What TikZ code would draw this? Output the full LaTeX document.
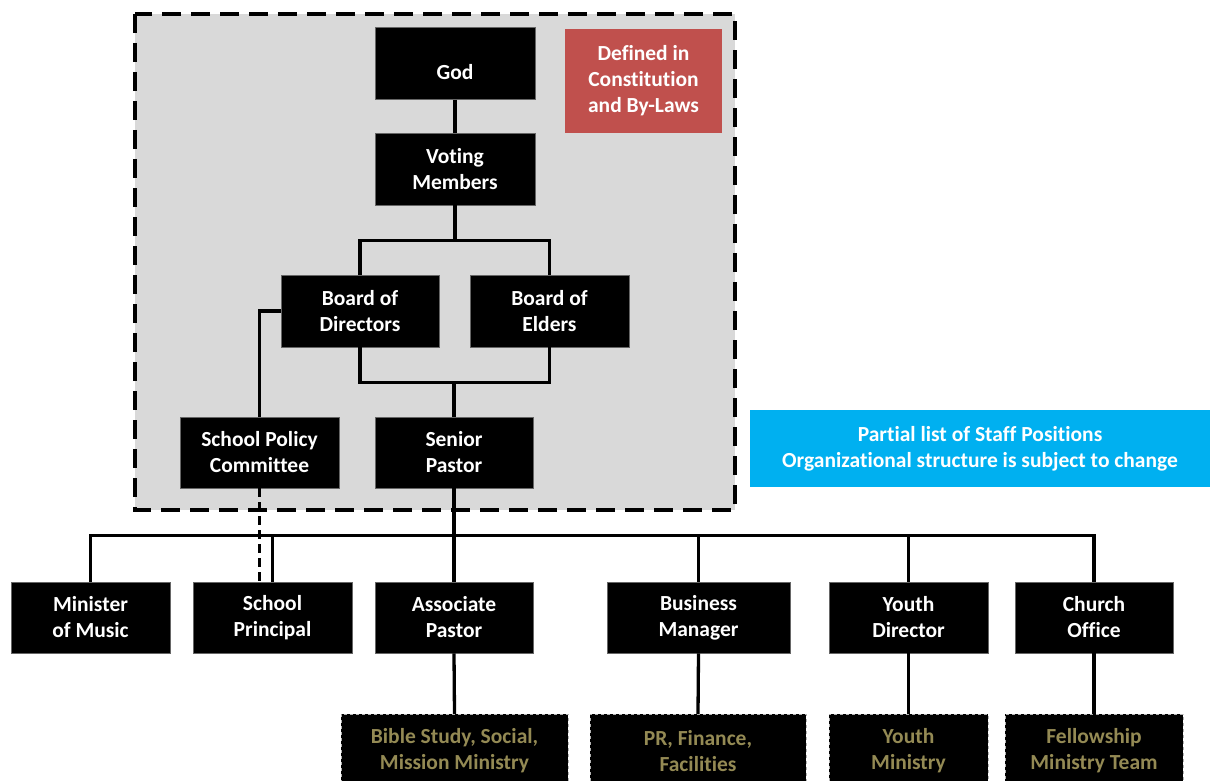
\documentclass[tikz,border=0pt]{standalone}
\usepackage{fontspec}
\setmainfont[Ligatures=NoCommon]{Carlito}
\usepackage{xcolor}
\usetikzlibrary{positioning}

\definecolor{boardred}{HTML}{C0504D}
\definecolor{noteblue}{HTML}{00B0F0}
\definecolor{coregray}{HTML}{D9D9D9}
\definecolor{tan}{HTML}{948A54}

\begin{document}
\begin{tikzpicture}[x=1pt, y=-1pt,
    role/.style={fill=black, draw=black!60, line width=0.8pt, text=white, align=center, inner sep=0pt,
        font=\fontsize{21.5}{26}\selectfont\bfseries, minimum height=71pt},
    ministry/.style={role, draw=gray!60, dashed, thin, text=tan, minimum height=74pt},
    tag/.style={role, draw=none},
    link/.style={line width=3.3pt}]
    \useasboundingbox (0,0) rectangle (1210,781);

    % Draw the region set by the constitution
    \draw[fill=coregray, line width=4.5pt, dash pattern=on 19pt off 10pt] (135,14) rectangle (735,510);

    % Define the nodes
    \node[role, minimum width=160pt, minimum height=72pt] (God) at (455,63.5) {\raisebox{-9pt}[\height][\depth]{God}};
    \node[role, minimum width=160pt, minimum height=72pt] (Voting) at (455,169) {Voting\\Members};
    \node[tag, fill=boardred, minimum width=157pt, minimum height=104pt] (Defined) at (643.5,81) {Defined in\\Constitution\\and By-Laws};
    \node[role, minimum width=158pt, minimum height=72pt] (Directors) at (360,311) {Board of\\Directors};
    \node[role, minimum width=159pt, minimum height=72pt] (Elders) at (549.5,311) {Board of\\Elders};
    \node[role, minimum width=159pt] (Policy) at (259.5,452.5) {School Policy\\Committee};
    \node[role, minimum width=158pt] (Senior) at (454,452.5) {Senior\\Pastor};
    \node[tag, fill=noteblue, minimum width=460pt, minimum height=77pt] (Note) at (980,448.5) {Partial list of Staff Positions\\Organizational structure is subject to change};

    % Staff positions
    \node[role, minimum width=159pt] (Music) at (90.5,617.5) {Minister\\of Music};
    \node[role, minimum width=159pt] (Principal) at (272.5,617.5) {School\\Principal};
    \node[role, minimum width=158pt] (Associate) at (454,617.5) {Associate\\Pastor};
    \node[role, minimum width=183pt] (Business) at (698.5,617.5) {Business\\Manager};
    \node[role, minimum width=159pt] (Youth) at (908.5,617.5) {Youth\\Director};
    \node[role, minimum width=158pt] (Office) at (1094,617.5) {Church\\Office};

    % Ministries
    \node[ministry, minimum width=227pt] (Bible) at (454.5,751) {Bible Study, Social,\\Mission Ministry};
    \node[ministry, minimum width=216pt] (Finance) at (698,751) {PR, Finance,\\Facilities};
    \node[ministry, minimum width=159pt] (YouthMin) at (908.5,751) {Youth\\Ministry};
    \node[ministry, minimum width=178pt] (Fellowship) at (1094,751) {Fellowship\\Ministry Team};

    % Draw connections
    \draw[link] (God.south) -- (Voting.north);
    \draw[link] (Voting.south) -- ++(0,35) -| (Directors.north);
    \draw[link] (Voting.south) -- ++(0,35) -| (Elders.north);
    \draw[link] (Directors.south) -- ++(0,35) -| (Elders.south);
    \draw[link] (Senior.north) -- ++(0,-35);
    \draw[link] (Directors.west) -| (Policy.north);
    \draw[link, dash pattern=on 9pt off 5pt] (Policy.south) -- (Policy.south |- Principal.north);
    \foreach \n in {Music, Principal, Associate, Business, Youth, Office}
        \draw[link] (Senior.south) -- ++(0,47) -| (\n.north);
    \draw[link] (Associate.south) -- (Bible.north);
    \draw[link] (Business.south) -- (Finance.north);
    \draw[link] (Youth.south) -- (YouthMin.north);
    \draw[link] (Office.south) -- (Fellowship.north);
\end{tikzpicture}
\end{document}
